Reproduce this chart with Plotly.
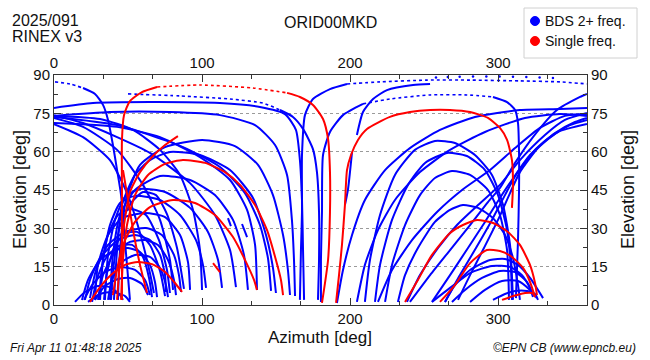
import plotly.graph_objects as go

# ---------------- data: satellite sky tracks (azimuth / elevation, deg) ----------------
BLUE_SOLID_AZ = [
    [19.6, 27.7, 33.1, 36.5, 39.8, 42.6, 45.3, 47.3, 49.3, 51.3],
    [0, 26.3, 64.8, 112.1, 139.1, 156.0, 163.4, 166.1, 167.5, 168.2, 168.9],
    [152.6, 161.4, 168.2, 174.9, 177.6, 179.0, 179.0, 178.3],
    [166.1, 166.8, 167.5, 167.5, 169.5, 174.9, 186.4, 197.9],
    [180.3, 180.3, 181.0, 181.7, 186.4, 195.2, 208.7],
    [296.5, 306.0, 311.4, 313.4, 314.1, 314.1, 313.4, 312.0],
    [196.5, 198.6, 201.3],
    [204.6, 208.7, 215.5, 224.9, 242.5, 254.0],
    [0, 37.8, 78.3, 112.1, 135.8, 149.3, 157.4, 160.7, 162.1, 162.8],
    [0, 42.6, 87.1, 112.1, 129.0, 139.1, 144.5, 146.6],
    [0, 42.6, 71.6, 98.6, 118.9, 130.4, 135.8, 137.1],
    [0, 19.6, 42.6, 64.8, 91.9, 108.7, 118.9, 122.9],
    [0, 31.1, 53.4, 71.6, 85.1, 93.9, 98.6, 100.0],
    [0, 19.6, 42.6, 60.1, 71.6, 78.3, 80.4],
    [0, 19.6, 37.8, 49.3, 58.1, 64.8, 67.5],
    [43.2, 44.6, 48.6, 58.1, 75.0, 100.0, 122.2, 137.8, 147.9, 154.7, 158.0, 159.4],
    [40.5, 42.6, 45.9, 54.7, 64.8, 78.3, 98.6, 118.9, 134.4, 143.2, 147.9, 149.9],
    [37.8, 39.8, 44.6, 54.7, 71.6, 91.9, 108.7, 120.9, 128.3, 131.0],
    [34.4, 36.5, 41.2, 48.0, 58.1, 75.0, 91.9, 104.0, 110.8, 113.5],
    [31.1, 33.1, 37.8, 44.6, 54.7, 71.6, 85.1, 95.9, 100.6, 102.7],
    [27.7, 29.7, 36.5, 45.9, 61.5, 75.0, 85.1, 90.5, 91.9],
    [24.3, 28.4, 36.5, 48.0, 62.1, 72.9, 81.0, 84.4, 85.8],
    [20.9, 24.3, 31.1, 43.2, 54.7, 64.8, 71.6, 75.0, 75.6],
    [29.7, 33.1, 41.2, 51.3, 61.5, 70.2, 77.0, 81.0, 82.4],
    [18.9, 23.0, 31.1, 41.2, 50.0, 58.1, 64.8, 68.2, 69.6],
    [36.5, 39.2, 45.9, 54.7, 64.8, 71.6, 75.6, 77.0],
    [20.3, 25.7, 34.4, 44.6, 54.7, 61.5, 64.8],
    [27.7, 34.4, 43.2, 51.3, 59.4, 63.5],
    [14.2, 20.9, 29.7, 37.8, 44.6, 46.6],
    [23.0, 31.1, 39.2, 48.0, 51.3],
    [30.4, 32.4, 36.5, 43.2, 52.0, 62.1, 70.9, 76.3, 78.3],
    [33.8, 35.8, 40.5, 47.3, 56.1, 64.8, 71.6, 75.0],
    [25.7, 29.0, 35.1, 43.9, 52.7, 60.1, 64.2, 66.2],
    [38.5, 40.5, 44.6, 52.0, 60.1, 68.9, 76.3, 83.1, 87.8],
    [127.0, 130.4],
    [117.5, 119.5],
    [210.0, 213.4, 220.2, 230.3, 243.8, 257.3, 270.8, 284.3, 295.8, 303.3, 308.0, 310.0],
    [216.8, 220.2, 228.3, 239.1, 250.6, 265.4, 278.9, 291.1, 299.9, 306.0, 308.7, 309.3],
    [223.6, 228.3, 237.1, 247.2, 257.3, 268.8, 281.0, 293.1, 301.2, 306.0, 307.3],
    [232.3, 237.1, 245.8, 257.3, 267.5, 276.2, 286.4, 296.5, 304.6, 310.0, 313.4, 314.7],
    [264.1, 270.8, 281.0, 294.5, 304.6, 313.4, 321.5, 330.3],
    [255.3, 267.5, 281.0, 295.8, 308.0, 316.1, 321.5, 323.5],
    [268.8, 277.6, 289.1, 301.2, 311.4, 319.5, 323.5],
    [281.0, 291.1, 302.6, 313.4, 321.5, 326.2],
    [296.5, 304.6, 311.4, 319.5, 324.9, 326.9],
    [240.4, 254.0, 267.5, 281.0, 293.1, 301.2, 311.4, 323.5, 339.7, 355.3, 360.0],
    [255.3, 267.5, 279.6, 291.1, 301.2, 309.3, 321.5, 335.0, 348.5, 360.0],
    [264.1, 274.2, 285.0, 295.8, 304.6, 312.0, 324.9, 338.4, 351.9, 360.0],
    [272.9, 281.0, 290.4, 299.9, 308.0, 314.7, 326.9, 340.4, 360.0],
    [238.4, 247.2, 259.4, 272.2, 286.4, 301.2, 314.7, 331.6, 345.1, 360.0],
    [218.8, 228.3, 241.8, 258.7, 275.6, 294.5, 311.4, 328.2, 345.1, 360.0],
    [191.1, 195.2, 201.3, 210.0, 223.6, 240.4, 260.7, 284.3, 314.7, 341.8, 360.0],
    [204.6, 210.0, 218.8, 230.3, 247.2, 267.5, 291.1, 318.1, 341.8, 360.0],
]
BLUE_SOLID_EL = [
    [84.9, 82.6, 78.3, 72.4, 62.6, 52.8, 43.0, 29.3, 15.7, 2.0],
    [77.1, 79.0, 79.4, 79.0, 77.5, 74.7, 68.5, 56.7, 41.1, 21.5, 2.0],
    [76.3, 73.6, 68.9, 61.0, 52.0, 36.4, 17.6, 2.0],
    [2.0, 21.5, 36.4, 58.7, 74.3, 80.6, 84.5, 86.5],
    [1.2, 17.6, 36.4, 58.7, 67.7, 74.3, 78.7],
    [81.4, 79.4, 76.3, 71.2, 59.5, 45.0, 25.4, 2.7],
    [39.1, 45.4, 59.9],
    [66.5, 75.5, 80.6, 84.1, 86.1, 86.5],
    [74.0, 75.5, 75.5, 74.3, 70.4, 62.6, 50.9, 33.3, 17.6, 3.5],
    [73.6, 70.4, 61.8, 54.0, 43.8, 31.3, 18.4, 5.5],
    [71.2, 69.7, 65.7, 57.9, 48.9, 37.2, 23.5, 5.9],
    [74.3, 71.2, 65.7, 59.5, 47.7, 35.2, 21.5, 7.0],
    [74.0, 72.8, 68.5, 60.7, 50.9, 37.2, 21.5, 5.9],
    [73.2, 69.7, 60.7, 47.0, 33.3, 17.6, 5.9],
    [70.8, 65.7, 56.7, 43.8, 28.2, 12.5, 4.7],
    [2.0, 21.5, 41.1, 54.8, 61.8, 64.6, 62.2, 54.8, 43.0, 27.4, 13.7, 3.9],
    [2.0, 21.5, 39.1, 50.9, 56.7, 59.9, 58.7, 52.8, 41.9, 27.4, 14.5, 4.7],
    [2.0, 19.6, 35.2, 45.0, 50.5, 48.9, 43.0, 33.3, 19.6, 5.9],
    [2.0, 19.6, 33.3, 42.3, 45.4, 44.2, 38.0, 28.6, 17.6, 6.7],
    [2.0, 17.6, 31.3, 39.9, 42.7, 41.1, 35.2, 25.4, 15.7, 6.7],
    [2.0, 15.7, 27.4, 34.0, 36.0, 34.4, 27.4, 16.8, 5.9],
    [2.7, 13.7, 23.5, 28.6, 30.1, 27.4, 19.6, 11.7, 5.1],
    [2.0, 9.8, 18.4, 25.4, 27.4, 25.4, 19.6, 11.7, 5.1],
    [2.0, 11.7, 20.7, 24.7, 25.4, 23.5, 17.6, 9.8, 3.9],
    [2.0, 9.8, 17.6, 21.5, 22.3, 20.7, 15.7, 9.0, 3.1],
    [2.0, 9.8, 16.8, 19.6, 18.8, 14.5, 7.8, 3.1],
    [2.0, 7.8, 12.9, 14.9, 13.7, 9.8, 3.9],
    [2.0, 7.4, 10.2, 10.6, 8.2, 3.9],
    [1.2, 5.1, 7.4, 7.0, 3.9, 2.0],
    [1.2, 4.3, 5.1, 3.5, 1.2],
    [2.0, 14.9, 27.4, 35.2, 37.6, 35.2, 25.4, 13.7, 4.7],
    [2.0, 12.5, 22.3, 27.8, 28.6, 23.5, 13.3, 3.5],
    [1.2, 10.2, 18.4, 23.1, 23.5, 18.8, 10.6, 3.1],
    [2.0, 16.4, 30.9, 39.9, 44.2, 43.0, 35.6, 22.3, 6.3],
    [31.7, 26.6],
    [34.0, 30.9],
    [1.2, 17.6, 35.2, 50.9, 60.7, 64.2, 63.4, 58.7, 50.9, 39.1, 23.5, 2.0],
    [1.2, 15.7, 33.3, 47.0, 55.6, 59.5, 58.3, 52.8, 43.0, 29.3, 13.7, 2.0],
    [1.2, 15.7, 31.3, 43.0, 49.7, 52.4, 50.9, 45.0, 35.2, 21.5, 2.0],
    [1.2, 11.7, 22.3, 32.5, 37.2, 39.1, 38.0, 34.0, 27.4, 18.4, 7.8, 2.0],
    [1.2, 7.8, 13.7, 17.6, 18.0, 15.7, 10.6, 2.7],
    [1.2, 6.7, 12.5, 15.3, 14.9, 11.7, 6.7, 3.1],
    [1.2, 5.9, 10.6, 13.3, 12.9, 9.0, 3.9],
    [1.2, 5.9, 9.4, 9.4, 5.9, 2.7],
    [2.0, 4.3, 5.5, 5.5, 4.3, 2.0],
    [1.2, 11.7, 21.5, 31.3, 40.3, 45.8, 55.6, 65.7, 76.3, 81.4, 82.6],
    [1.2, 11.7, 22.3, 32.5, 41.9, 48.9, 58.7, 65.7, 70.4, 72.4],
    [1.2, 11.7, 22.3, 33.3, 43.0, 50.9, 60.7, 67.3, 71.6, 73.2],
    [2.0, 11.7, 22.3, 33.3, 43.8, 52.0, 61.4, 67.7, 70.8],
    [1.2, 11.7, 22.3, 31.3, 39.1, 47.0, 56.7, 66.5, 72.4, 75.1],
    [1.2, 13.7, 25.4, 36.4, 45.0, 52.8, 61.4, 69.3, 74.0, 74.7],
    [0.8, 13.7, 27.4, 41.1, 52.8, 61.4, 68.5, 73.6, 76.3, 76.7, 77.1],
    [1.2, 15.7, 29.3, 41.1, 52.0, 60.7, 67.7, 73.2, 74.7, 74.0],
]
BLUE_DOTTED_AZ = [
    [0.7, 10.8, 19.6],
    [50.0, 85.1, 118.9, 141.2, 152.6],
    [197.9, 220.2, 251.9, 281.0, 314.7, 341.8, 360.0],
    [208.7, 226.9, 254.0, 278.9, 296.5],
]
BLUE_DOTTED_EL = [
    [87.3, 86.5, 84.9],
    [82.6, 81.8, 80.6, 79.0, 76.3],
    [86.5, 87.3, 88.0, 88.0, 87.7, 87.3, 86.5],
    [78.7, 80.6, 82.2, 82.2, 81.4],
]
ZENITH_AZ = [258, 266, 274, 283, 292, 301, 310, 319, 328, 337]
ZENITH_EL = [89.0, 89.2, 89.3, 89.4, 89.4, 89.4, 89.3, 89.2, 89.0, 88.8]

RED_SOLID_AZ = [
    [45.9, 45.9, 45.9, 45.9, 47.3, 51.3, 59.4, 69.6],
    [157.4, 166.1, 174.9, 181.7, 185.1, 186.4, 186.4, 185.1, 181.0],
    [45.3, 46.6, 49.3, 54.7, 63.5, 75.0, 87.1, 102.0, 115.5, 125.6, 135.8, 143.9, 149.9, 153.3, 154.7],
    [42.6, 44.6, 47.3, 51.3, 58.1, 66.2, 75.0, 83.7],
    [39.8, 43.2, 48.0, 54.7, 64.8, 80.4, 95.2, 108.7, 120.9, 129.7, 135.1, 137.1],
    [24.3, 31.1, 39.2, 48.0, 56.7, 66.2, 75.0, 81.7, 86.5],
    [46.6, 50.0, 54.0, 58.1, 62.8],
    [107.4, 112.1],
    [190.5, 192.5, 194.5, 196.5, 197.9, 200.6, 205.3, 211.4, 226.9, 240.4, 254.0, 267.5, 281.0, 293.1, 301.2, 306.0, 309.3, 310.0, 309.3],
    [237.1, 245.8, 255.3, 267.5, 276.2, 285.7, 296.5, 306.6, 314.7, 321.5, 324.9, 326.2],
    [260.7, 270.8, 281.0, 292.4, 301.2, 309.3, 316.8, 321.5, 324.9],
    [302.6, 308.0, 312.7, 318.1, 322.8, 324.9],
]
RED_SOLID_EL = [
    [2.0, 21.5, 45.0, 64.6, 74.3, 79.8, 83.3, 85.3],
    [83.0, 81.4, 78.3, 72.8, 65.0, 52.0, 36.4, 17.6, 0.8],
    [2.0, 17.6, 31.3, 43.0, 50.9, 55.2, 56.7, 55.6, 52.0, 47.0, 39.1, 29.3, 17.6, 9.8, 3.9],
    [2.0, 17.6, 31.3, 44.2, 52.0, 57.9, 62.6, 66.1],
    [3.9, 15.7, 25.4, 32.5, 38.3, 41.1, 39.9, 35.2, 26.6, 16.8, 9.8, 5.9],
    [1.2, 7.0, 12.1, 15.7, 16.8, 16.0, 12.9, 8.6, 5.1],
    [52.8, 41.1, 27.4, 15.7, 4.7],
    [16.4, 12.9],
    [0.8, 11.7, 23.5, 39.1, 52.8, 58.7, 64.6, 68.9, 73.6, 75.5, 76.3, 76.3, 75.5, 73.2, 69.3, 64.6, 56.7, 47.0, 38.0],
    [1.2, 9.8, 19.6, 28.2, 31.3, 33.3, 32.1, 28.6, 23.5, 15.7, 8.6, 3.9],
    [1.2, 7.8, 16.4, 21.5, 21.1, 18.8, 14.5, 9.0, 3.1],
    [2.0, 3.1, 3.9, 4.7, 4.7, 3.5],
]
RED_DOTTED_AZ = [[69.6, 98.6, 134.4, 157.4]]
RED_DOTTED_EL = [[85.3, 86.1, 84.9, 83.0]]

X_TICKS = [0, 100, 200, 300]
Y_TICKS = [0, 15, 30, 45, 60, 75, 90]
LEGEND_NAMES = ["BDS 2+ freq.", "Single freq."]

BLUE = "#0000ff"
RED = "#ff0000"
FONT = "Liberation Sans, Arial, Helvetica, sans-serif"

fig = go.Figure()


def add_tracks(azs, els, color, dash="solid", width=2.0, xa="x", ya="y"):
    for az, el in zip(azs, els):
        fig.add_trace(go.Scatter(
            x=az, y=el, mode="lines", xaxis=xa, yaxis=ya,
            line=dict(color=color, width=width, dash=dash, shape="spline", smoothing=0.6),
            showlegend=False, hoverinfo="skip"))


add_tracks(BLUE_SOLID_AZ, BLUE_SOLID_EL, BLUE)
add_tracks(BLUE_DOTTED_AZ, BLUE_DOTTED_EL, BLUE, dash="dot", width=1.6)
fig.add_trace(go.Scatter(x=ZENITH_AZ, y=ZENITH_EL, mode="markers",
                         marker=dict(color=BLUE, size=2.5), showlegend=False, hoverinfo="skip"))
# red tracks sit on the mirrored (top/right) axes, which share identical ranges
add_tracks(RED_SOLID_AZ, RED_SOLID_EL, RED, xa="x2", ya="y2")
add_tracks(RED_DOTTED_AZ, RED_DOTTED_EL, RED, dash="dot", width=1.6, xa="x2", ya="y2")

# plot area in pixels: x 54..587, y 75..305
L, R, T, B = 54, 587, 75, 305


def px(x):
    return (x - L) / (R - L)


def py(y):
    return (B - y) / (B - T)


axis_common = dict(showline=True, linecolor="#333333", linewidth=1, ticks="inside",
                   tickcolor="#333333", ticklen=7, zeroline=False, automargin=False,
                   tickfont=dict(size=15, color="#111111", family=FONT))
minor_x = dict(ticks="inside", dtick=100 / 3, tick0=0, ticklen=4, tickcolor="#333333")
minor_y = dict(ticks="inside", dtick=7.5, tick0=0, ticklen=4, tickcolor="#333333")

fig.update_layout(
    width=650, height=360,
    margin=dict(l=L, r=650 - R, t=T, b=360 - B, autoexpand=False),
    paper_bgcolor="white", plot_bgcolor="white",
    font=dict(family=FONT, color="#111111"),
    showlegend=False,
    xaxis=dict(range=[0, 360], tickvals=X_TICKS, mirror=True, showgrid=False, minor=minor_x,
               **axis_common),
    yaxis=dict(range=[0, 90], tickvals=Y_TICKS, mirror=True, showgrid=True,
               gridcolor="#9a9a9a", griddash="dot", gridwidth=1, minor=minor_y,
               **axis_common),
    xaxis2=dict(range=[0, 360], tickvals=X_TICKS, overlaying="x", side="top", showgrid=False,
                anchor="y2", minor=minor_x, **axis_common),
    yaxis2=dict(range=[0, 90], tickvals=Y_TICKS, overlaying="y", side="right", showgrid=False,
                anchor="x2", minor=minor_y, **axis_common),
)

annos = [
    dict(text="ORID00MKD", x=px(330), y=py(22), xanchor="center", yanchor="middle", font=dict(size=16)),
    dict(text="2025/091", x=px(10), y=py(20), xanchor="left", yanchor="middle", font=dict(size=16)),
    dict(text="RINEX v3", x=px(10), y=py(36), xanchor="left", yanchor="middle", font=dict(size=16)),
    dict(text="Azimuth [deg]", x=px(320), y=py(337), xanchor="center", yanchor="middle", font=dict(size=17)),
    dict(text="Elevation [deg]", x=px(20), y=py(190), xanchor="center", yanchor="middle", textangle=-90,
         font=dict(size=18)),
    dict(text="Elevation [deg]", x=px(628), y=py(190), xanchor="center", yanchor="middle", textangle=-90,
         font=dict(size=18)),
    dict(text="<i>Fri Apr 11 01:48:18 2025</i>", x=px(8), y=py(348), xanchor="left", yanchor="middle",
         font=dict(size=12)),
    dict(text="<i>©EPN CB (www.epncb.eu)</i>", x=px(638), y=py(348), xanchor="right", yanchor="middle",
         font=dict(size=12)),
    dict(text=LEGEND_NAMES[0], x=px(543), y=py(21), xanchor="left", yanchor="middle", font=dict(size=14)),
    dict(text=LEGEND_NAMES[1], x=px(543), y=py(41), xanchor="left", yanchor="middle", font=dict(size=14)),
]
for a in annos:
    fig.add_annotation(xref="paper", yref="paper", showarrow=False, **a)

fig.add_shape(type="rect", xref="paper", yref="paper", x0=px(524), x1=px(637), y0=py(8), y1=py(58),
              line=dict(color="#d0d0d0", width=1), fillcolor="white")
for yc, col in ((21, BLUE), (41, RED)):
    fig.add_shape(type="circle", xref="paper", yref="paper", x0=px(530.5), x1=px(539.5),
                  y0=py(yc + 4.5), y1=py(yc - 4.5), line=dict(color=col, width=1), fillcolor=col)

# remove the browser's default 8px page margin so the 650x360 figure fills the window exactly
fig.write_html("out.html", config={"displayModeBar": False, "staticPlot": True},
               post_script="document.body.style.margin='0';document.body.style.padding='0';"
                           "document.body.style.overflow='hidden';")
